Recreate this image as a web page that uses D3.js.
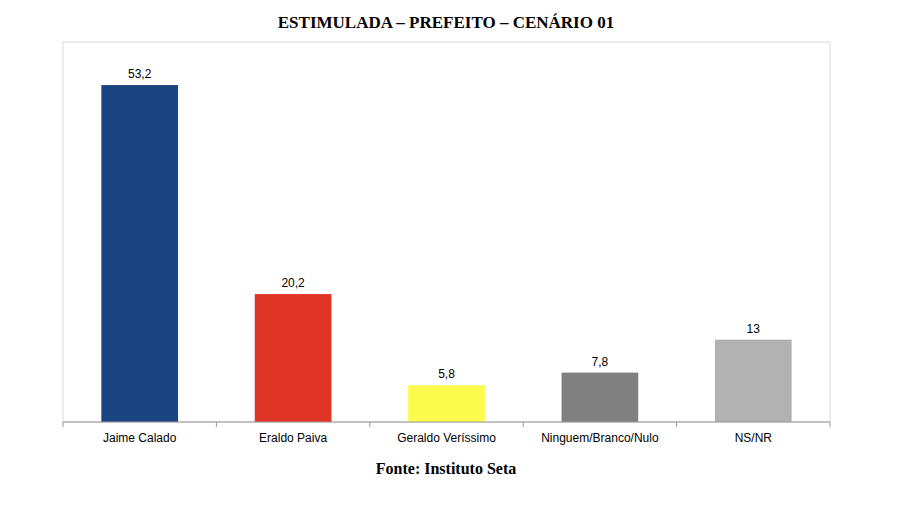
<!DOCTYPE html>
<html><head><meta charset="utf-8">
<script src="https://cdn.jsdelivr.net/npm/d3@7"></script>
<style>body{margin:0;background:#fff}</style>
</head><body><div id="chart"></div>
<script>
var categories = ["Jaime Calado", "Eraldo Paiva", "Geraldo Veríssimo", "Ninguem/Branco/Nulo", "NS/NR"];
var values = [53.2, 20.2, 5.8, 7.8, 13];
var labels = ["53,2", "20,2", "5,8", "7,8", "13"];
var colors = ["#1b4482", "#e03426", "#fcfc4f", "#808080", "#b2b2b2"];

var svg = d3.select("#chart").append("svg").attr("width", 901).attr("height", 508);
var pLeft = 63, pRight = 830, pTop = 42, pBottom = 422;

svg.append("rect").attr("x", pLeft).attr("y", pTop).attr("width", pRight - pLeft).attr("height", pBottom - pTop)
  .attr("fill", "none").attr("stroke", "#d9d9d9");

var x = d3.scaleBand().domain(categories).range([pLeft, pRight]).paddingInner(0.5).paddingOuter(0.25);
var y = d3.scaleLinear().domain([0, 60]).range([pBottom, pTop]);

svg.selectAll(".bar").data(values).enter().append("rect")
  .attr("x", function(d, i) { return x(categories[i]); })
  .attr("y", function(d) { return y(d); })
  .attr("width", x.bandwidth())
  .attr("height", function(d) { return pBottom - y(d); })
  .attr("fill", function(d, i) { return colors[i]; });

svg.selectAll(".lab").data(values).enter().append("text")
  .attr("x", function(d, i) { return x(categories[i]) + x.bandwidth() / 2; })
  .attr("y", function(d) { return y(d) - 7; })
  .attr("text-anchor", "middle").style("font-family", "Liberation Sans, Arial").style("font-size", "12px")
  .text(function(d, i) { return labels[i]; });

// axis line and tick marks at category boundaries
var step = (pRight - pLeft) / categories.length;
svg.append("line").attr("x1", pLeft).attr("x2", pRight).attr("y1", pBottom).attr("y2", pBottom).attr("stroke", "#999");
d3.range(categories.length + 1).forEach(function(i) {
  svg.append("line").attr("x1", pLeft + i * step).attr("x2", pLeft + i * step)
    .attr("y1", pBottom).attr("y2", pBottom + 5).attr("stroke", "#999");
});
svg.selectAll(".cat").data(categories).enter().append("text")
  .attr("x", function(d) { return x(d) + x.bandwidth() / 2; })
  .attr("y", pBottom + 20)
  .attr("text-anchor", "middle").style("font-family", "Liberation Sans, Arial").style("font-size", "12px")
  .text(function(d) { return d; });

svg.append("text").attr("x", 446).attr("y", 28).attr("text-anchor", "middle")
  .style("font-family", "Liberation Serif, Times New Roman").style("font-weight", "bold").style("font-size", "17px")
  .text("ESTIMULADA – PREFEITO – CENÁRIO 01");
svg.append("text").attr("x", 446).attr("y", 474).attr("text-anchor", "middle")
  .style("font-family", "Liberation Serif, Times New Roman").style("font-weight", "bold").style("font-size", "16px")
  .text("Fonte: Instituto Seta");
</script></body></html>
